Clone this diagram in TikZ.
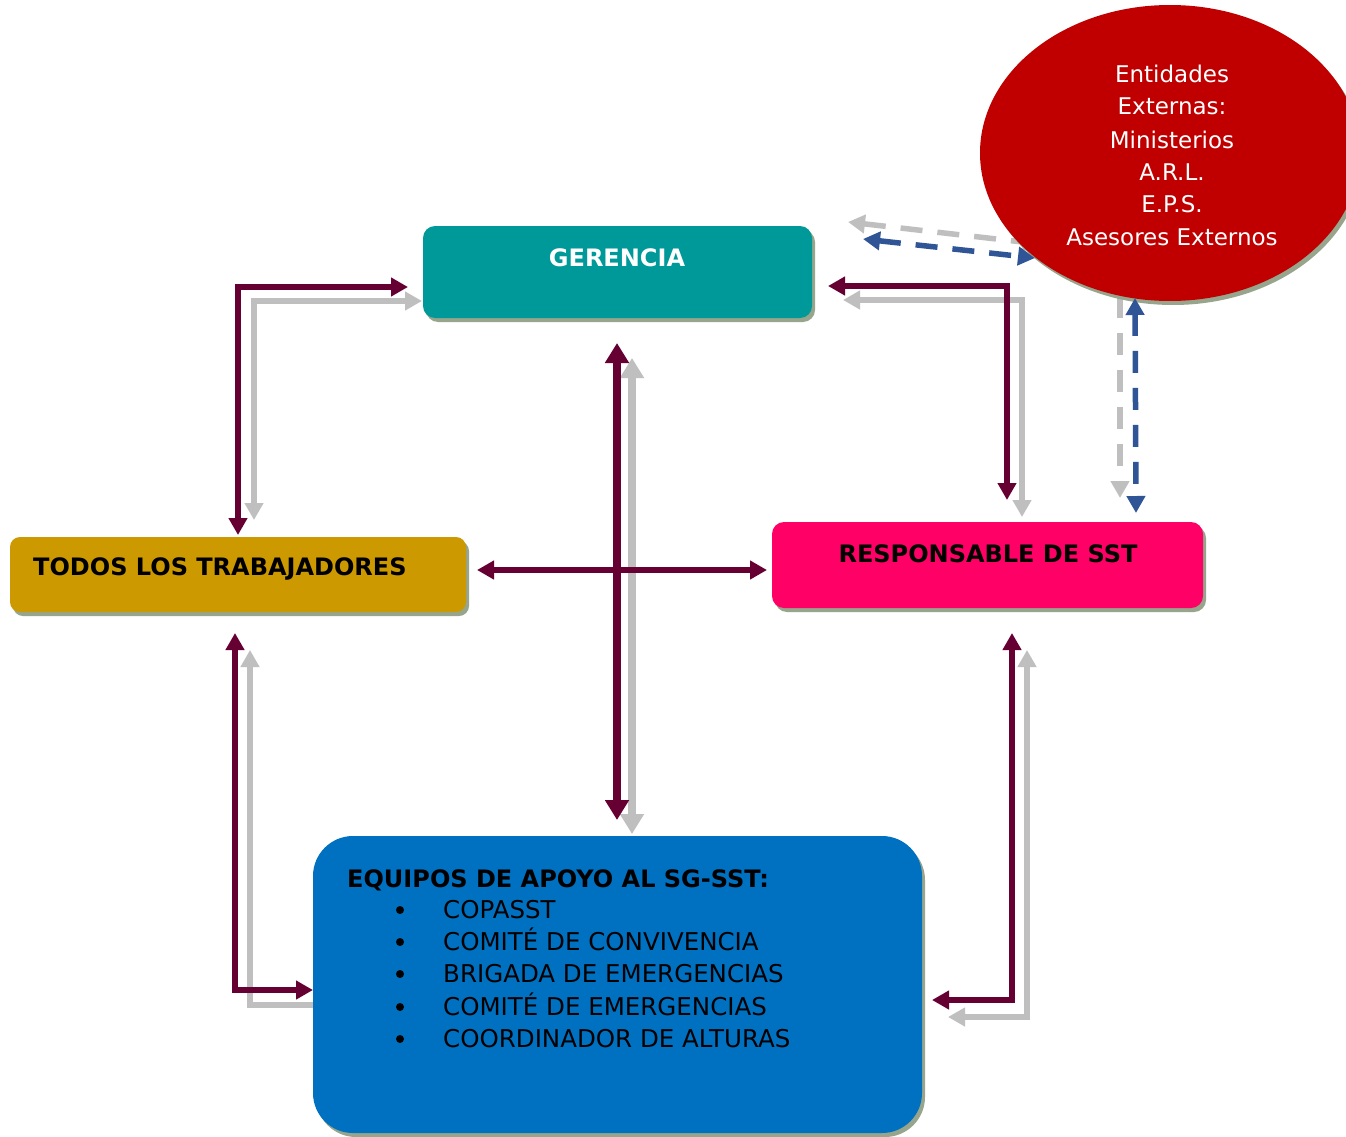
\documentclass[tikz,border=0pt]{standalone}
\usepackage{fontspec}
\setmainfont{DejaVu Sans}
\usetikzlibrary{arrows.meta,shapes.geometric,shadows}
\definecolor{teal1}{RGB}{0,153,153}
\definecolor{gold1}{RGB}{204,153,0}
\definecolor{pink1}{RGB}{255,0,102}
\definecolor{blue1}{RGB}{0,112,192}
\definecolor{red1}{RGB}{192,0,0}
\definecolor{maroon1}{RGB}{102,0,51}
\definecolor{gray1}{RGB}{191,191,191}
\definecolor{dblue}{RGB}{47,85,151}
\definecolor{shad}{RGB}{150,165,140}
\begin{document}
\begin{tikzpicture}[x=1pt,y=-1pt,
  >={Triangle[length=17pt 0 0,width=18pt 0 0]},
  big/.style={>={Triangle[length=20pt 0 0,width=23pt 0 0]},line width=7.5pt},
  box/.style={draw=none,inner sep=0pt,drop shadow={shadow xshift=3pt,shadow yshift=-4pt,fill=shad,opacity=1}},
  lbl/.style={anchor=base,inner sep=0pt,font=\fontsize{24}{30}\selectfont\bfseries},
  txt/.style={anchor=base west,inner sep=0pt,font=\fontsize{24.5}{30}\selectfont},
  etxt/.style={anchor=base,inner sep=0pt,text=white,font=\fontsize{23}{30}\selectfont},
  mar/.style={draw=maroon1,line width=5.5pt},
  gry/.style={draw=gray1,line width=5.5pt},
  dsh/.style={line width=5.5pt,dash pattern=on 22pt off 15pt},
]
\clip (0,0) rectangle (1346,1137);
\fill[white] (0,0) rectangle (1346,1137);

% gray dashed (behind ellipse)
\coordinate (gd1) at (848,222);
\coordinate (gd2) at (1040,244);
\draw[dsh,draw=gray1,<->] (gd1) -- (gd2);
\coordinate (gv1) at (1120,280);
\coordinate (gv2) at (1120,498);
\draw[dsh,draw=gray1,<->] (gv1) -- (gv2);

% nodes
\node[box,fill=red1,ellipse,minimum width=380pt,minimum height=296pt] (ext) at (1170,153) {};
\node[box,fill=teal1,rounded corners=12pt,minimum width=389pt,minimum height=92pt] (ger) at (617.5,272) {};
\node[box,fill=gold1,rounded corners=10pt,minimum width=456pt,minimum height=75pt] (tod) at (238,574.5) {};
\node[box,fill=pink1,rounded corners=12pt,minimum width=431pt,minimum height=86pt] (res) at (987.5,565) {};
\node[box,fill=blue1,rounded corners=40pt,minimum width=609pt,minimum height=297pt] (equ) at (617.5,984.5) {};

% labels
\node[lbl,text=white] (gerl) at (617,266) {GERENCIA};
\node[lbl,anchor=base west] (todl) at (33,575) {TODOS LOS TRABAJADORES};
\node[lbl] (resl) at (988,562) {RESPONSABLE DE SST};
\node[lbl,anchor=base west] (equl) at (347,887) {EQUIPOS DE APOYO AL SG-SST:};
\foreach \t/\y/\n in {COPASST/918/1,COMITÉ DE CONVIVENCIA/950/2,BRIGADA DE EMERGENCIAS/982/3,COMITÉ DE EMERGENCIAS/1015/4,COORDINADOR DE ALTURAS/1047/5}{
  \fill (400,\y-8) circle (4pt);
  \node[txt] (it\n) at (443,\y) {\t};
}
\foreach \t/\y/\n in {Entidades/83/1,Externas:/115/2,Ministerios/148/3,A.R.L./180/4,E.P.S./212/5,Asesores Externos/245/6}{
  \node[etxt] (el\n) at (1172,\y) {\t};
}

% coordinates
\coordinate (a1) at (238,535);  \coordinate (a2) at (408,287);
\coordinate (b1) at (254,520);  \coordinate (b2) at (422,301);
\coordinate (c1) at (828,286);  \coordinate (c2) at (1007,500);
\coordinate (d1) at (843,300);  \coordinate (d2) at (1022,517);
\coordinate (e1) at (617,343);  \coordinate (e2) at (617,820);
\coordinate (f1) at (632,358);  \coordinate (f2) at (632,834);
\coordinate (g1) at (477,570);  \coordinate (g2) at (767,570);
\coordinate (h1) at (235,633);  \coordinate (h2) at (313,990);
\coordinate (i1) at (250,650);  \coordinate (i2) at (313,1005);
\coordinate (j1) at (1012,633); \coordinate (j2) at (932,1000);
\coordinate (k1) at (1027,650); \coordinate (k2) at (948,1017);

% gray solid arrows
\draw[gry,<->] (b1) |- (b2);
\draw[gry,<->] (d1) -| (d2);
\draw[gry,big,<->] (f1) -- (f2);
\draw[gry,<-] (i1) |- (i2);
\draw[gry,<->] (k1) |- (k2);

% maroon arrows
\draw[mar,<->] (a1) |- (a2);
\draw[mar,<->] (c1) -| (c2);
\draw[mar,big,<->] (e1) -- (e2);
\draw[mar,<->] (g1) -- (g2);
\draw[mar,<->] (h1) |- (h2);
\draw[mar,<->] (j1) |- (j2);

% blue dashed
\coordinate (bd1) at (863,239);
\coordinate (bd2) at (1035,258);
\draw[dsh,draw=dblue,<->] (bd1) -- (bd2);
\coordinate (bv1) at (1135,298);
\coordinate (bv2) at (1136,513);
\draw[dsh,draw=dblue,<->] (bv1) -- (bv2);
\end{tikzpicture}
\end{document}
